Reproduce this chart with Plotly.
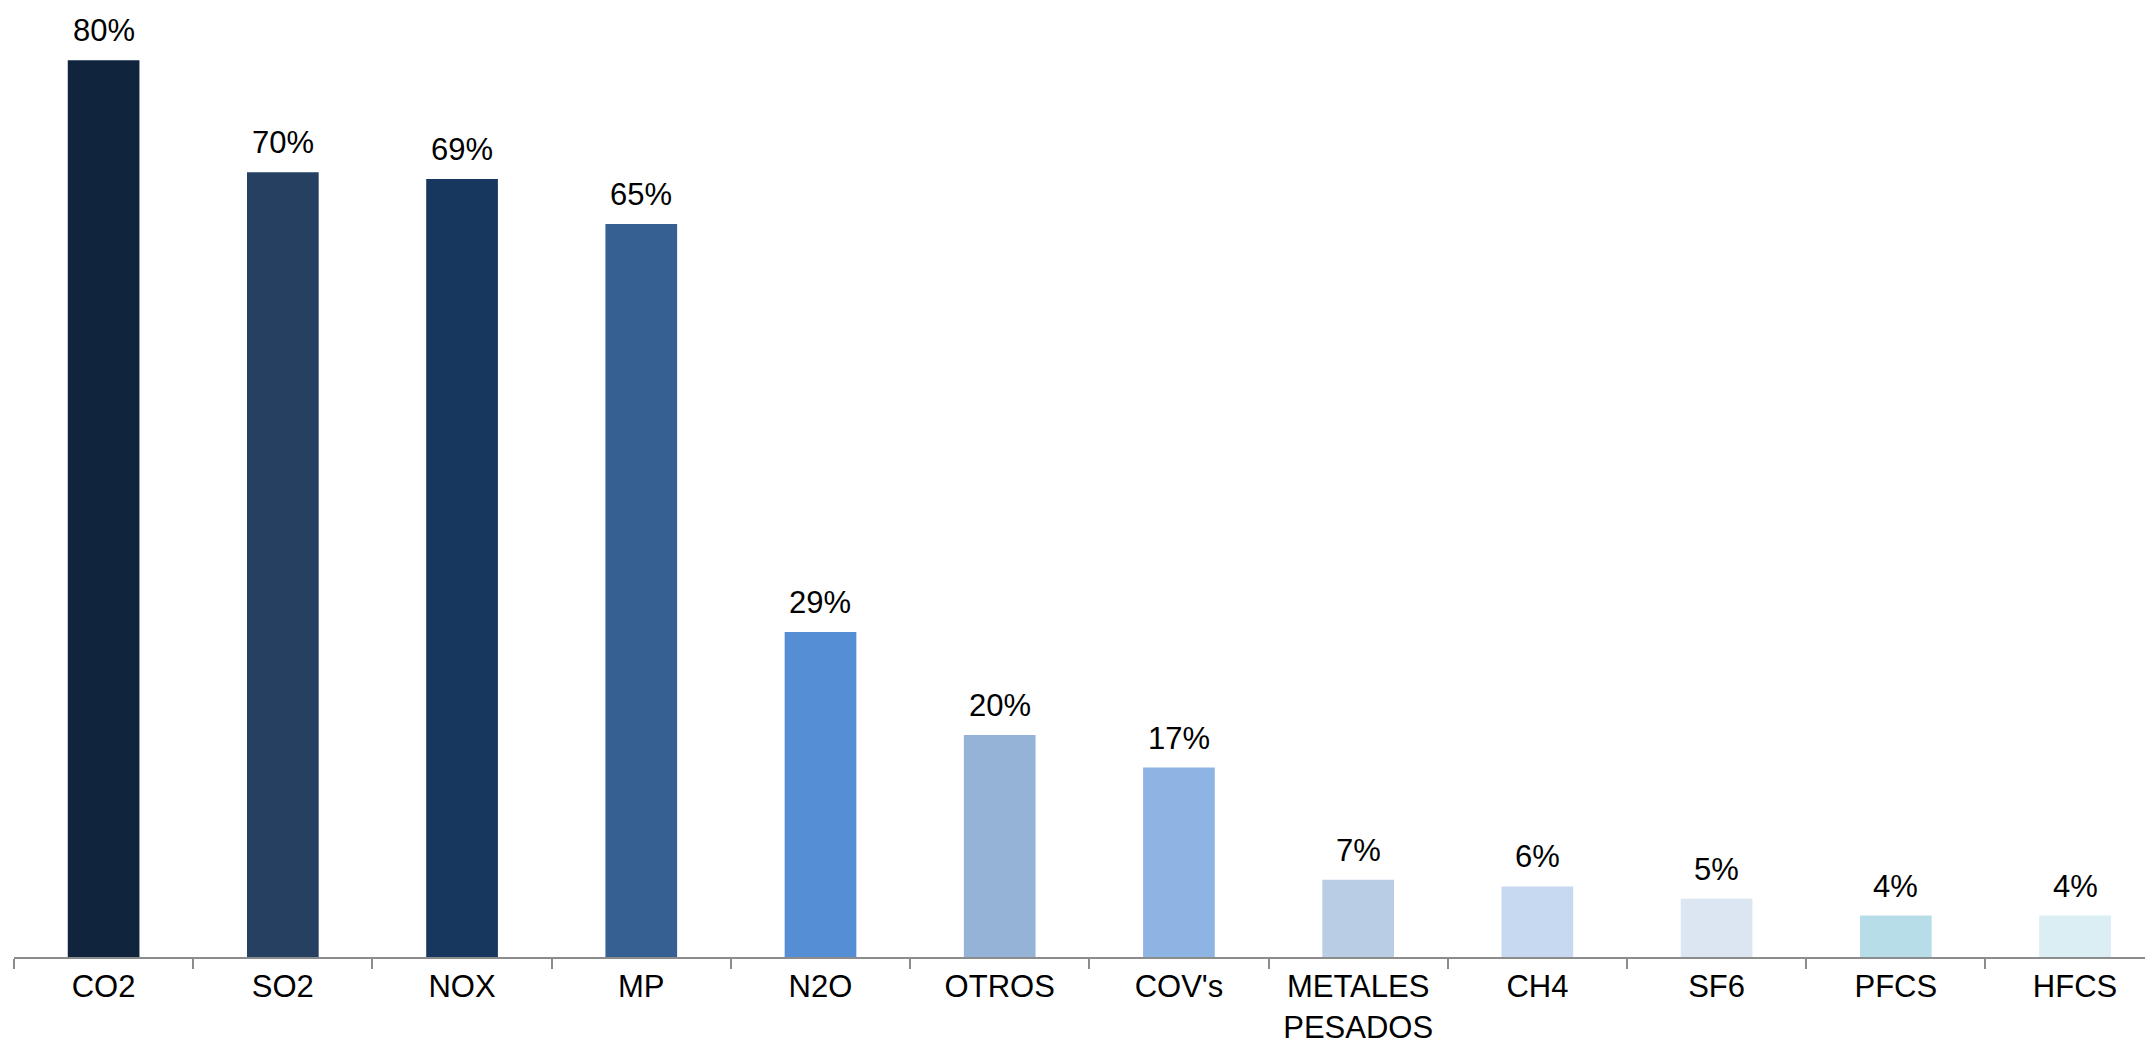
import plotly.graph_objects as go

categories = ["CO2", "SO2", "NOX", "MP", "N2O", "OTROS", "COV's",
              "METALES<br>PESADOS", "CH4", "SF6", "PFCS", "HFCS"]
values = [80.0, 70.0, 69.4, 65.4, 29.0, 19.8, 16.9, 6.9, 6.3, 5.2, 3.7, 3.7]
colors = ["#10243E", "#254061", "#17375E", "#366092", "#558ED5", "#95B3D7",
          "#8EB4E3", "#B9CDE5", "#C6D9F1", "#DCE6F2", "#B7DEE8", "#DBEEF4"]

FONT = "Liberation Sans, Arial, sans-serif"

fig = go.Figure(go.Bar(
    x=categories, y=values, marker=dict(color=colors, line=dict(width=0)),
    width=0.4, hoverinfo="x+y",
))

for c, v in zip(categories, values):
    fig.add_annotation(x=c, y=v, text=f"{v:.0f}%", showarrow=False,
                       yanchor="bottom", yshift=10,
                       font=dict(family=FONT, size=31, color="#000000"))

fig.update_layout(
    width=2145, height=1037,
    margin=dict(l=6, r=0, t=0, b=88, autoexpand=False),
    paper_bgcolor="white", plot_bgcolor="white",
    showlegend=False,
    font=dict(family=FONT, size=31, color="#000000"),
    xaxis=dict(
        type="category", range=[-0.5, 11.435], automargin=False,
        showline=True, linecolor="#8C8C8C", linewidth=2,
        ticks="outside", tickson="boundaries", ticklen=10, tickwidth=1.5,
        tickcolor="#8C8C8C", showgrid=False, zeroline=False,
        ticklabelstandoff=1,
        tickfont=dict(family=FONT, size=31, color="#000000"),
    ),
    yaxis=dict(range=[0, 84.66], visible=False, showgrid=False, zeroline=False,
               automargin=False),
)

fig.write_html("out.html")
